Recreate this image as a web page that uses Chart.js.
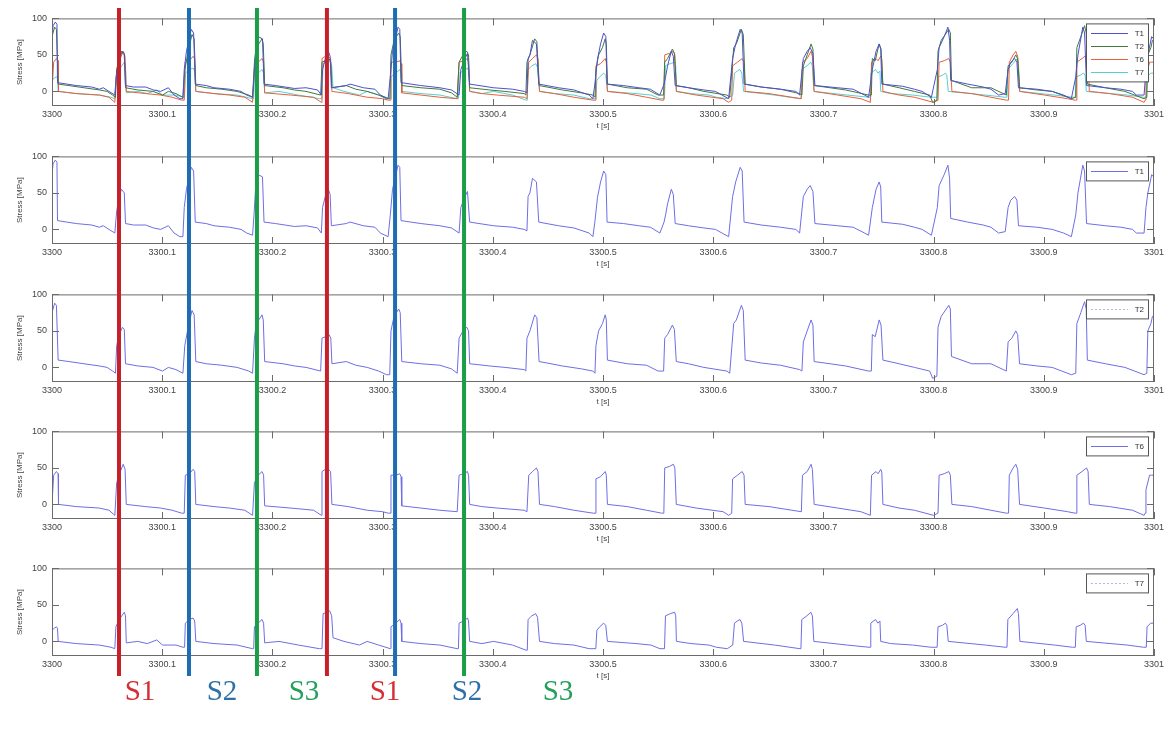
<!DOCTYPE html>
<html>
<head>
<meta charset="utf-8">
<script src="https://cdn.jsdelivr.net/npm/chart.js@4.4.1/dist/chart.umd.min.js"></script>
<style>
html, body { margin: 0; padding: 0; background: #fff; }
#wrap { position: relative; width: 1170px; height: 729px; overflow: hidden; background: #fff; }
#wrap canvas { position: absolute; left: 0; }
#overlay { pointer-events: none; }
</style>
</head>
<body>
<div id="wrap">
  <canvas id="p1"></canvas>
  <canvas id="p2"></canvas>
  <canvas id="p3"></canvas>
  <canvas id="p4"></canvas>
  <canvas id="p5"></canvas>
  <canvas id="overlay"></canvas>
</div>
<script>
// time axis is in ms after T0 (s)
const T0 = 3300;
const xTickMs = [0, 100, 200, 300, 400, 500, 600, 700, 800, 900, 1000];
const yTickVals = [0, 50, 100];

// stress [MPa], [ms, value]
const stressT1 = [
  [0,75],[1,90],[3,95],[4.5,92],[5,12],[22,8],[36,6],[43,3],[46.5,5],[51.7,0],[57,-5],
  [58.7,25],[61,45],[63,55],[65.6,50],[66.7,8],[74,6],[85,6],[92,2],[98.6,0],[105.6,5],[110.8,-5],[116,-10],[118.8,-10],
  [120,30],[122,55],[126.4,85],[128.5,80],[130,10],[140,8],[147,5],[161,3],[171.5,0],[176.7,-5],[182,-8],
  [183.3,20],[184.7,55],[187,75],[191,72],[192.4,10],[202.8,8],[220,4],[230.5,5],[241,2],[244.4,-5],
  [245.5,30],[248,45],[250.7,55],[252.4,48],[253.5,5],[267,8],[270.5,10],[282.6,5],[293,3],[298,-5],[305,-10],
  [307,20],[309,55],[314,88],[315.6,85],[316.7,12],[334.7,8],[352,5],[362.5,2],[369.4,-5],
  [371,30],[374.7,45],[377,52],[379,10],[400.7,5],[418,3],[428.5,0],[431,-2],
  [432,45],[433.7,50],[436,70],[439.6,65],[441.7,10],[459.7,5],[473.6,2],[487.5,-5],[490.8,-10],
  [492.6,10],[495,44],[497.8,65],[500.6,80],[502.6,75],[503.7,10],[518.6,8],[532.5,5],[543,3],[551.6,-5],
  [555.4,10],[556.8,20],[558.6,35],[562,55],[563.8,48],[565.5,8],[577.7,5],[591.5,2],[602,0],[614,-10],
  [617.6,45],[620.4,65],[624.5,85],[626.3,80],[628,10],[643.6,6],[661,3],[675,0],[678.4,-5],
  [681.8,45],[685.3,55],[688,60],[690.5,52],[692.3,8],[713,5],[727,3],[737.4,-5],[741,-8],
  [744.4,30],[747.8,55],[750.6,65],[752,58],[753,10],[772,7],[782.6,3],[789.5,0],[798,-8],
  [803.4,30],[805,60],[809.6,75],[813,88],[814.5,70],[815.5,15],[831,10],[845,6],[852,3],[859,-5],[865,-3],
  [867.6,30],[870,40],[873.5,45],[875.6,40],[877,5],[893.7,3],[907.6,0],[918,-5],[925,-10],
  [929,20],[931,50],[935.4,88],[937,80],[938.8,8],[956,5],[970,3],[980.5,0],[984,-5],[991,-5],
  [992.7,30],[994.4,50],[997.9,75],[999.6,72],[1000,72]
];

const stressT2 = [
  [0,75],[2.4,88],[4,85],[5.6,10],[15.3,8],[29,5],[43,2],[50,0],[55,-5],[57.6,-8],
  [58.7,30],[61,45],[63.9,55],[65.6,52],[66.7,5],[77.8,2],[91.7,0],[100.3,-5],[105.6,0],[112.5,-3],[118.8,-8],
  [120.5,30],[123,50],[127,78],[129,72],[130.5,8],[140,5],[154,3],[168,0],[178.5,-5],[182,-8],
  [183.7,40],[185.4,60],[190.6,72],[191.7,65],[193,8],[209.7,5],[220,2],[230.5,0],[243.8,-5],
  [245,40],[248,42],[251.4,45],[253,40],[254,5],[267,8],[275.7,3],[286,0],[296.5,-5],[303.5,-10],[306.5,-10],
  [307.6,50],[310.4,70],[314.6,80],[316,75],[317.4,8],[334.7,5],[352,3],[362.5,-2],[367.7,-8],
  [369.4,40],[373,50],[376.4,55],[378,50],[379,5],[397,2],[411,0],[428.5,-3],[430,-5],
  [431,40],[433.7,50],[438,72],[440,68],[442,8],[452.8,5],[463,2],[480.5,-2],[490.8,-5],[492.7,-8],
  [493.6,30],[496,50],[499.5,60],[502,72],[503,65],[504,10],[522,5],[539.5,3],[550,-5],[555,-5],
  [556,40],[558.6,45],[563,58],[564.8,52],[566.5,8],[577.7,5],[591.5,0],[612.4,-5],[615,-8],
  [618.6,60],[621,65],[625.6,85],[627.3,78],[629,10],[643.6,6],[661,3],[678.4,-3],[680.5,-5],
  [681.8,35],[685.3,50],[688.8,65],[690.5,58],[691.6,8],[706,5],[720,2],[741,-5],[743.5,-5],
  [744.4,45],[747,42],[750.6,65],[752.3,58],[754,10],[768.7,5],[782.6,0],[796.4,-5],[799.2,-15],[803,-12],
  [804,55],[806.9,70],[813.8,85],[815.2,80],[816.2,15],[834.6,5],[852,5],[866,-5],
  [867.6,35],[871,40],[874.6,50],[876.3,45],[878,5],[893.7,2],[907.6,0],[925,-10],[929,-8],
  [930,60],[933.6,75],[937,90],[938.5,80],[939.5,10],[956,5],[973.6,0],[991,-10],[993.5,-8],
  [994.4,50],[997.2,60],[998.6,70],[1000,70]
];

const stressT6 = [
  [0,0],[1.5,40],[4,45],[5.5,42],[5.9,0],[22,-3],[43,-5],[51.7,-8],[57,-15],
  [58.7,30],[62,45],[64.6,55],[66.3,48],[67.4,0],[84.7,-3],[98.6,-5],[109,-8],[117.7,-12],[120,-12],
  [121,40],[124.7,42],[128,48],[129.5,45],[130.5,0],[147,-3],[161,-5],[175,-8],[182,-15],
  [183.7,30],[187,40],[190.6,45],[192,40],[193,-2],[216.7,-5],[237.5,-8],[244.4,-15],
  [245,45],[248,48],[249.7,50],[252.8,45],[254,0],[268.8,-3],[286,-8],[300,-10],[305,-12],[306.8,-12],
  [307.6,40],[312,40],[315.6,42],[316.7,38],[317.4,-2],[334.7,-5],[352,-8],[367.7,-10],
  [369.4,40],[373.6,42],[377,45],[378,40],[379,0],[390,-3],[404,-5],[428.5,-8],[431,-10],
  [432.6,40],[436,45],[439.6,50],[441,45],[442.4,0],[456,-3],[473.6,-8],[491,-12],[492.8,-12],
  [493.6,35],[497.8,38],[502,45],[503,40],[504,0],[522,-3],[539.5,-8],[553.3,-12],[555.2,-12],
  [556,50],[560.3,52],[563.8,55],[565.2,50],[566.5,0],[584.6,-5],[609,-10],[614,-15],[616.8,-12],
  [617.6,35],[622,40],[626.3,45],[628,40],[629,0],[650.6,-3],[671.4,-8],[680,-10],
  [681,40],[685.3,45],[688.8,55],[690,48],[691.6,0],[713,-5],[734,-10],[742.6,-15],
  [743.7,40],[747.8,45],[749.6,42],[752,48],[753,44],[754,0],[768.7,-5],[782.6,-8],[800,-15],[804,-12],
  [805,40],[809.6,42],[813.8,45],[815.2,40],[816.6,0],[834.6,-3],[852,-8],[866,-12],[868,-12],
  [868.7,40],[872.2,50],[874.6,55],[876.3,48],[878,0],[900.6,-5],[921.5,-10],[928.4,-12],[929.4,-12],
  [930,40],[934.7,45],[938.8,50],[940.2,45],[941.3,0],[959.7,-3],[980.5,-8],[991,-15],[992,-12],
  [992.7,20],[996,40],[997.9,40],[1000,40]
];

const stressT7 = [
  [0,15],[2,18],[4,20],[5,18],[5.6,0],[22,-3],[43,-5],[53.5,-8],[57,-10],
  [58,20],[61,30],[65.6,40],[66.7,35],[67.4,-2],[77.8,0],[86.5,-3],[95,2],[100.3,-5],[112.5,-5],[118.8,-8],[120.3,-8],
  [121,25],[124.7,30],[128,32],[129.5,28],[130.5,0],[147,-3],[168,-5],[182,-10],[183,-10],
  [183.7,20],[187,25],[190.6,30],[192,25],[193,-2],[206,0],[223.6,-5],[242.7,-10],[245,-10],
  [246,38],[249.7,40],[252,42],[253.8,35],[255,5],[265,0],[279,-5],[286,0],[296.5,-5],[307,-10],
  [307.6,20],[312,25],[315.6,30],[316.7,25],[317.4,0],[334.7,-3],[352,-5],[367.7,-10],[368.8,-10],
  [369.4,25],[373.6,28],[377,32],[378,28],[379,0],[390,-3],[400.7,0],[418,-5],[430,-12],[431.3,-12],
  [432,30],[435.4,35],[438.9,38],[440.6,33],[442.4,0],[456,-3],[473.6,-5],[487.5,-10],[493.5,-10],
  [494.4,15],[497,20],[500.6,25],[502.5,22],[504,0],[530,-3],[543.5,-5],[551.7,-10],[555.8,-10],
  [556.7,35],[561,38],[565,40],[566,35],[566.6,0],[579.8,-3],[596.3,-5],[602.9,-8],[612.8,-10],[617.7,-5],
  [619.3,25],[622,28],[624.3,30],[626,25],[627.6,0],[655.6,-5],[678.7,-10],[679.6,-10],
  [680.4,30],[685,35],[688.6,40],[690,35],[691.3,0],[721.6,-5],[741.4,-8],[742.3,-8],
  [743,25],[747.3,30],[749.5,25],[751.3,28],[752,0],[761,-3],[781,-5],[797.5,-8],[803.2,-8],
  [804,20],[808,22],[810.7,25],[812,22],[813.3,0],[847,-5],[865,-8],[866.6,-8],
  [867.4,30],[872,38],[876,45],[877,38],[878.3,0],[909.6,-5],[926,-8],[928.6,-8],
  [929.4,20],[933,22],[936,25],[937.5,22],[938.6,0],[975.6,-5],[990.5,-8],[993,-8],
  [993.7,20],[997,25],[1000,25]
];

// section marker lines and labels
const sectionMs = [60.8, 124.3, 186.0, 249.5, 311.3, 373.9];
const sectionLineColors = ['#c8202a', '#1e6db4', '#1a9e47', '#c8202a', '#1e6db4', '#1a9e47'];
const sectionLabels = ['S1', 'S2', 'S3', 'S1', 'S2', 'S3'];
const sectionLabelMs = [79.9, 154.3, 228.7, 302.2, 376.6, 459.2];
const sectionLabelColors = ['#d42f35', '#2e70a8', '#22a05c', '#d42f35', '#2e70a8', '#22a05c'];

const panelTops = [13, 151, 289, 426, 563];
const PAD_TOP = 5, PLOT_H = 93, XAXIS_H = 30;
const TICK_FONT = { family: '"Liberation Sans", Arial, sans-serif', size: 9 };
const BLUE = '#6e6ee6';

function pts(arr) { return arr.map(p => ({ x: p[0], y: p[1] })); }

// box, inward ticks and a matlab style legend
const matlabBox = {
  id: 'matlabBox',
  afterDatasetsDraw(chart) {
    const { ctx, chartArea: a, scales } = chart;
    const x = scales.x, y = scales.y;
    ctx.save();
    ctx.strokeStyle = '#6b6b6b';
    ctx.lineWidth = 1;
    ctx.strokeRect(a.left + 0.5, a.top + 0.5, a.right - a.left - 1, a.bottom - a.top - 1);
    ctx.beginPath();
    xTickMs.forEach(v => {
      const px = Math.round(x.getPixelForValue(v)) + 0.5;
      ctx.moveTo(px, a.bottom); ctx.lineTo(px, a.bottom - 7);
      ctx.moveTo(px, a.top); ctx.lineTo(px, a.top + 7);
    });
    yTickVals.forEach(v => {
      const py = Math.round(y.getPixelForValue(v)) + 0.5;
      ctx.moveTo(a.left, py); ctx.lineTo(a.left + 7, py);
      ctx.moveTo(a.right, py); ctx.lineTo(a.right - 7, py);
    });
    ctx.stroke();

    // legend
    const ds = chart.data.datasets;
    const w = 62, rowH = 13;
    const h = rowH * ds.length + 6;
    const bx = a.right - 6 - w, by = a.top + 5;
    ctx.fillStyle = '#fff';
    ctx.fillRect(bx, by, w, h);
    ctx.strokeStyle = '#555';
    ctx.strokeRect(bx + 0.5, by + 0.5, w, h);
    ctx.font = '8px "Liberation Sans", Arial, sans-serif';
    ctx.textAlign = 'right';
    ctx.textBaseline = 'middle';
    ds.forEach((d, i) => {
      const cy = Math.round(by + 3 + rowH / 2 + i * rowH) + 0.5;
      ctx.strokeStyle = d.legendColor || d.borderColor;
      ctx.setLineDash(d.legendDash || []);
      ctx.beginPath();
      ctx.moveTo(bx + 5, cy); ctx.lineTo(bx + w - 20, cy);
      ctx.stroke();
      ctx.setLineDash([]);
      ctx.fillStyle = '#333';
      ctx.fillText(d.label, bx + w - 4, cy);
    });
    ctx.restore();
  }
};

function makePanel(id, top, datasets) {
  const cv = document.getElementById(id);
  cv.width = 1170;
  cv.height = PAD_TOP + PLOT_H + XAXIS_H;
  cv.style.top = (top - PAD_TOP) + 'px';
  return new Chart(cv, {
    type: 'line',
    data: { datasets: datasets },
    options: {
      responsive: false,
      animation: false,
      devicePixelRatio: 1,
      layout: { padding: { left: 12, right: 16, top: PAD_TOP, bottom: 0 } },
      elements: { point: { radius: 0 }, line: { tension: 0, borderWidth: 1 } },
      plugins: { legend: { display: false }, tooltip: { enabled: false } },
      scales: {
        x: {
          type: 'linear', min: 0, max: 1000,
          afterBuildTicks: s => { s.ticks = xTickMs.map(v => ({ value: v })); },
          afterFit: s => { s.height = XAXIS_H; },
          grid: { display: false, drawTicks: false },
          border: { display: false },
          ticks: {
            autoSkip: false, maxRotation: 0, padding: 3, color: '#444', font: TICK_FONT,
            callback: v => (T0 + v / 1000).toFixed(v % 1000 === 0 ? 0 : 1)
          },
          title: { display: true, text: 't [s]', color: '#444', font: { family: TICK_FONT.family, size: 8 }, padding: { top: 0, bottom: 5 } }
        },
        y: {
          min: -20, max: 100,
          afterBuildTicks: s => { s.ticks = yTickVals.map(v => ({ value: v })); },
          afterFit: s => { s.width = 40; },
          grid: { display: false, drawTicks: false },
          border: { display: false },
          ticks: { padding: 5, color: '#444', font: TICK_FONT, callback: v => String(v) },
          title: { display: true, text: 'Stress [MPa]', color: '#444', font: { family: TICK_FONT.family, size: 8 }, padding: { top: 3, bottom: 0 } }
        }
      }
    },
    plugins: [matlabBox]
  });
}

makePanel('p1', panelTops[0], [
  { label: 'T1', data: pts(stressT1), borderColor: '#4f4fcf' },
  { label: 'T2', data: pts(stressT2), borderColor: '#3f7a3a' },
  { label: 'T6', data: pts(stressT6), borderColor: '#e8603c' },
  { label: 'T7', data: pts(stressT7), borderColor: '#55d0d0' }
]);
makePanel('p2', panelTops[1], [{ label: 'T1', data: pts(stressT1), borderColor: BLUE }]);
makePanel('p3', panelTops[2], [{ label: 'T2', data: pts(stressT2), borderColor: BLUE, legendColor: '#b8b8d8', legendDash: [2, 2] }]);
makePanel('p4', panelTops[3], [{ label: 'T6', data: pts(stressT6), borderColor: BLUE }]);
makePanel('p5', panelTops[4], [{ label: 'T7', data: pts(stressT7), borderColor: BLUE, legendColor: '#b8b8d8', legendDash: [2, 2] }]);

// overlay: section lines across all panels + S labels
const sectionText = {
  id: 'sectionText',
  afterDatasetsDraw(chart) {
    const { ctx, chartArea: a, scales: { x } } = chart;
    ctx.save();
    ctx.font = '29px "Liberation Serif", "DejaVu Serif", serif';
    ctx.textAlign = 'center';
    ctx.textBaseline = 'middle';
    sectionLabels.forEach((t, i) => {
      ctx.fillStyle = sectionLabelColors[i];
      ctx.fillText(t, x.getPixelForValue(sectionLabelMs[i]), a.bottom + 16);
    });
    ctx.restore();
  }
};

const ov = document.getElementById('overlay');
ov.width = 1170; ov.height = 729; ov.style.top = '0px';
new Chart(ov, {
  type: 'line',
  data: {
    datasets: sectionMs.map((ms, i) => ({
      data: [{ x: ms, y: 0 }, { x: ms, y: 1 }],
      borderColor: sectionLineColors[i],
      borderWidth: 4,
      borderCapStyle: 'butt',
      pointRadius: 0,
      clip: false
    }))
  },
  options: {
    responsive: false,
    animation: false,
    devicePixelRatio: 1,
    layout: { padding: { left: 52, right: 16, top: 8, bottom: 53 } },
    plugins: { legend: { display: false }, tooltip: { enabled: false } },
    scales: {
      x: { type: 'linear', min: 0, max: 1000, display: false },
      y: { min: 0, max: 1, display: false }
    }
  },
  plugins: [sectionText]
});
</script>
</body>
</html>
